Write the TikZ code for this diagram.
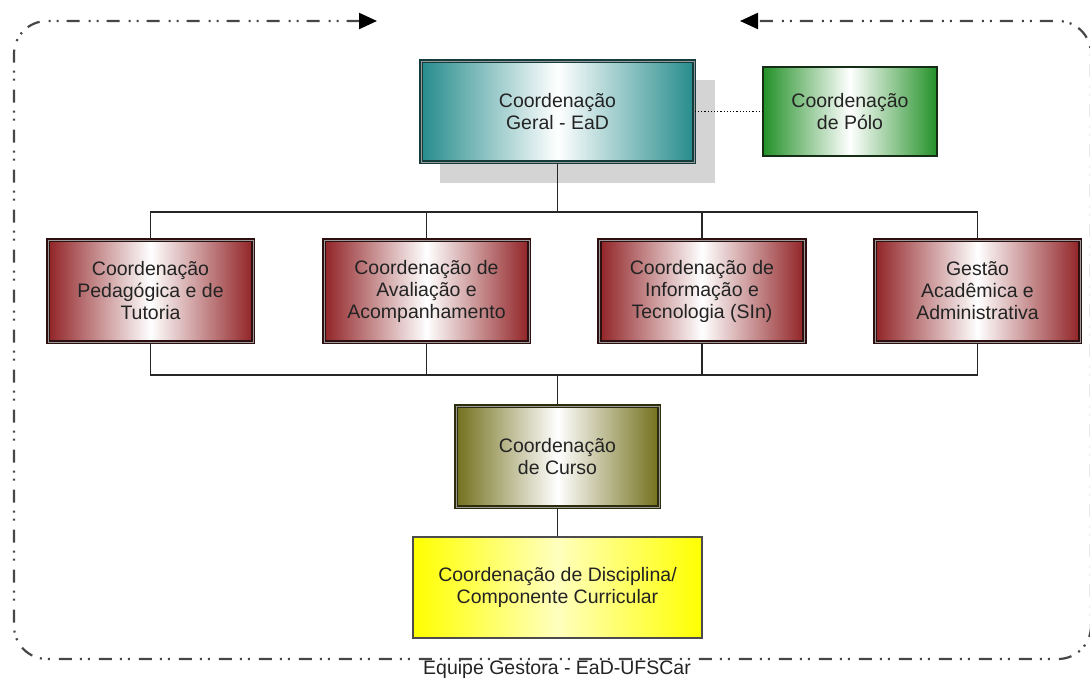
\documentclass[tikz,border=0pt]{standalone}
\usepackage{fontspec}
\setmainfont{Liberation Sans}
\usetikzlibrary{arrows.meta}
\definecolor{tealc}{RGB}{38,140,140}
\definecolor{tealb}{RGB}{20,60,60}
\definecolor{greenc}{RGB}{35,145,40}
\definecolor{greenb}{RGB}{20,45,20}
\definecolor{redc}{RGB}{145,35,38}
\definecolor{redb}{RGB}{45,15,15}
\definecolor{olivec}{RGB}{115,112,28}
\definecolor{oliveb}{RGB}{45,45,12}
\definecolor{yellowc}{RGB}{255,255,0}
\definecolor{yellowm}{RGB}{255,255,190}
\definecolor{txt}{RGB}{35,35,35}
\definecolor{framec}{RGB}{70,70,70}
\definecolor{shadowc}{RGB}{212,212,212}
\tikzset{
  base/.style={inner sep=0pt, align=center, text=txt, font=\fontsize{19.5}{22}\selectfont},
  dbl/.style={draw=#1, line width=1.6pt, double=gray!80, double distance=0.9pt},
  geralbox/.style={base, dbl=tealb, left color=tealc, right color=tealc, middle color=white, minimum width=273pt, minimum height=101pt},
  polobox/.style={base, draw=greenb, line width=1.6pt, left color=greenc, right color=greenc, middle color=white, minimum width=174pt, minimum height=89pt},
  redbox/.style={base, dbl=redb, left color=redc, right color=redc, middle color=white, minimum width=205pt, minimum height=102pt},
  cursobox/.style={base, dbl=oliveb, left color=olivec, right color=olivec, middle color=white, minimum width=203pt, minimum height=101pt},
  yelbox/.style={base, draw=gray!60!black, line width=1.2pt, left color=yellowc, right color=yellowc, middle color=yellowm, minimum width=289pt, minimum height=101pt},
  conn/.style={draw=black!85, line width=1.4pt},
  framepath/.style={draw=framec, line width=2.2pt, dash pattern=on 13pt off 8pt on 2pt off 6pt on 2pt off 9pt, rounded corners=33pt},
}
\begin{document}
\begin{tikzpicture}[x=1pt,y=-1pt]
\useasboundingbox (0,0) rectangle (1090,679);
% frame
\coordinate (fl) at (377,21);
\coordinate (fr) at (740,21);
\draw[framepath, {Triangle[length=18pt,width=16pt,color=black]}-{Triangle[length=18pt,width=16pt,color=black]}] (fl) -- (14,21) -- (14,659) -- (1091,659) -- (1091,21) -- (fr);
\node[base] (title) at (557,669) {Equipe Gestora - EaD-UFSCar};
% shadow
\fill[shadowc] (440,80) rectangle (715,183);
% nodes
\node[geralbox] (geral) at (557.5,111.5) {Coordenação\\Geral - EaD};
\node[polobox] (polo) at (850,111.5) {Coordenação\\de Pólo};
\node[redbox] (r1) at (150.5,291) {Coordenação\\Pedagógica e de\\Tutoria};
\node[redbox] (r2) at (426.5,291) {Coordenação de\\Avaliação e\\Acompanhamento};
\node[redbox] (r3) at (702,291) {Coordenação de\\Informação e\\Tecnologia (SIn)};
\node[redbox] (r4) at (977.5,291) {Gestão\\Acadêmica e\\Administrativa};
\node[cursobox] (curso) at (557.5,456.5) {Coordenação\\de Curso};
\node[yelbox] (disc) at (557.5,587.5) {Coordenação de Disciplina/\\Componente Curricular};
% connectors
\coordinate (bt) at (557.5,212);
\coordinate (bb) at (557.5,375);
\draw[black, line width=1.2pt, dotted] (geral.east) -- (polo.west);
\draw[conn] (geral.south) -- (bt);
\draw[conn] (r1.north) |- (bt);
\draw[conn] (r2.north) |- (bt);
\draw[conn] (r3.north) |- (bt);
\draw[conn] (r4.north) |- (bt);
\draw[conn] (r1.south) |- (bb);
\draw[conn] (r2.south) |- (bb);
\draw[conn] (r3.south) |- (bb);
\draw[conn] (r4.south) |- (bb);
\draw[conn] (bb) -- (curso.north);
\draw[conn] (curso.south) -- (disc.north);
\end{tikzpicture}
\end{document}
